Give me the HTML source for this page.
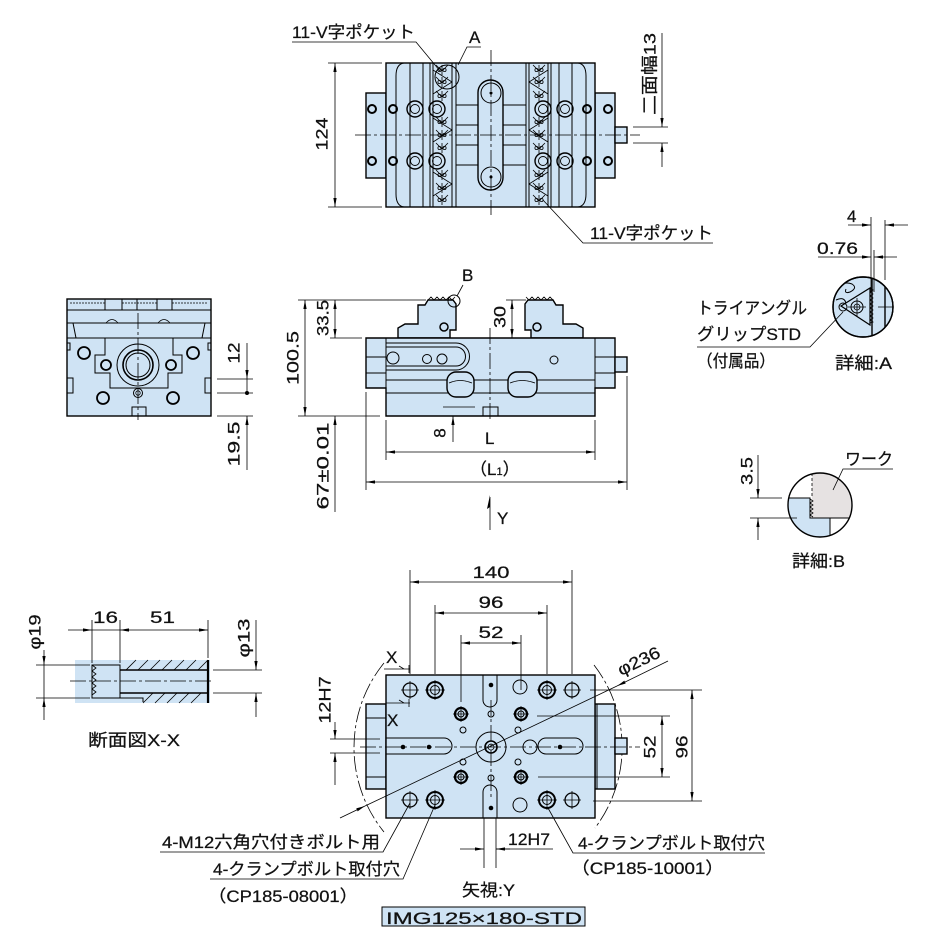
<!DOCTYPE html>
<html><head><meta charset="utf-8"><style>
html,body{margin:0;padding:0;background:#fff;}
svg{display:block;}
text{font-family:"Liberation Sans","Noto Sans CJK JP",sans-serif;fill:#111;font-size:17px;stroke:#111;stroke-width:0.25;}
.o{fill:#cfe3f4;stroke:#000;stroke-width:1.4}
.l{fill:none;stroke:#000;stroke-width:1}
.t{fill:none;stroke:#000;stroke-width:0.8}
.c{stroke-dasharray:16 3 3 3}
.k{fill:none;stroke:#000;stroke-width:2}
</style></head><body>
<svg width="929" height="950" viewBox="0 0 929 950" xmlns="http://www.w3.org/2000/svg">
<defs>
<marker id="ar" viewBox="0 0 10 10" refX="10" refY="5" markerWidth="9" markerHeight="9" markerUnits="userSpaceOnUse" orient="auto-start-reverse"><path d="M0,3.2 L10,5 L0,6.8 z" fill="#000"/></marker>
<g id="vp"><path d="M-6,-5 L0,1 L6,-5 M0,-5V5" fill="none" stroke="#000" stroke-width="0.8"/><circle cx="-2.5" cy="0" r="1.6" fill="none" stroke="#000" stroke-width="0.8"/><circle cx="2.5" cy="0" r="1.6" fill="none" stroke="#000" stroke-width="0.8"/></g>
<g id="bh"><circle r="8" fill="none" stroke="#000" stroke-width="1.4"/><circle r="4.5" fill="none" stroke="#000" stroke-width="0.9"/></g>
<g id="sh"><circle r="4" fill="none" stroke="#000" stroke-width="2"/></g>
<g id="px"><circle r="7" fill="none" stroke="#000" stroke-width="1.3"/><path d="M-9,0H9M0,-9V9" stroke="#000" stroke-width="0.8"/></g>
<g id="dx"><circle r="8" fill="none" stroke="#000" stroke-width="2"/><circle r="4.5" fill="none" stroke="#000" stroke-width="1"/><path d="M-10,0H10M0,-10V10" stroke="#000" stroke-width="0.8"/></g>
<g id="mx"><circle r="6" fill="none" stroke="#000" stroke-width="2.2"/><circle r="3" fill="none" stroke="#000" stroke-width="1"/><path d="M-8,0H8M0,-8V8" stroke="#000" stroke-width="0.7"/></g>
<clipPath id="ca"><circle cx="863" cy="307" r="30"/></clipPath>
<clipPath id="cb"><circle cx="820" cy="505" r="32"/></clipPath>
</defs>

<!-- ================= TOP VIEW ================= -->
<rect class="o" x="366" y="93" width="20" height="85"/>
<rect class="o" x="595" y="93" width="20" height="85"/>
<rect class="o" x="615" y="127" width="12" height="16"/>
<rect class="o" x="386" y="63" width="209" height="144"/>
<path class="l" d="M404,63 Q396,64 396,76 V194 Q396,206 404,207 M578,63 Q586,64 586,76 V194 Q586,206 578,207"/>
<path class="l" d="M410,63V207 M423,63V207 M430,63V207 M433,63V207 M452,63V207 M456,63V207 M526,63V207 M529,63V207 M548,63V207 M551,63V207 M559,63V207 M572,63V207"/>
<path class="l" d="M456,105H478 M503,105H526 M456,125H478 M503,125H526 M456,145H478 M503,145H526 M456,165H478 M503,165H526"/>
<path class="t" d="M433,70 L452,82 L433,94 M433,118 L452,130 L433,142 M433,172 L452,184 L433,196 M548,70 L529,82 L548,94 M548,118 L529,130 L548,142 M548,172 L529,184 L548,196"/>
<rect class="o" x="478" y="80" width="25" height="110" rx="12.5"/>
<circle class="l" cx="491" cy="93" r="10"/><circle class="l" cx="491" cy="177" r="10"/>
<circle cx="491" cy="93" r="1.5"/><circle cx="491" cy="177" r="1.5"/>
<use href="#bh" x="415" y="109"/><use href="#bh" x="437" y="109"/><use href="#bh" x="543" y="109"/><use href="#bh" x="565" y="109"/>
<use href="#bh" x="415" y="161"/><use href="#bh" x="437" y="161"/><use href="#bh" x="543" y="161"/><use href="#bh" x="565" y="161"/>
<use href="#sh" x="372" y="109"/><use href="#sh" x="393" y="109"/><use href="#sh" x="587" y="109"/><use href="#sh" x="608" y="109"/>
<use href="#sh" x="372" y="161"/><use href="#sh" x="393" y="161"/><use href="#sh" x="587" y="161"/><use href="#sh" x="608" y="161"/>
<use href="#vp" x="442" y="70"/><use href="#vp" x="442" y="82"/><use href="#vp" x="442" y="96"/><use href="#vp" x="442" y="122"/><use href="#vp" x="442" y="135"/><use href="#vp" x="442" y="148"/><use href="#vp" x="442" y="175"/><use href="#vp" x="442" y="188"/><use href="#vp" x="442" y="200"/>
<use href="#vp" x="539" y="70"/><use href="#vp" x="539" y="82"/><use href="#vp" x="539" y="96"/><use href="#vp" x="539" y="122"/><use href="#vp" x="539" y="135"/><use href="#vp" x="539" y="148"/><use href="#vp" x="539" y="175"/><use href="#vp" x="539" y="188"/><use href="#vp" x="539" y="200"/>
<path class="t c" d="M355,135H640 M491,50V215"/>
<circle class="l" cx="447" cy="77" r="12"/>
<!-- top dims -->
<path class="t" d="M328,63H382 M328,207H382"/>
<line class="t" x1="335" y1="63" x2="335" y2="207" marker-start="url(#ar)" marker-end="url(#ar)"/>
<text transform="translate(322,134) rotate(-90)" text-anchor="middle" dominant-baseline="central" font-size="19" textLength="33" lengthAdjust="spacingAndGlyphs">124</text>
<path class="t" d="M633,127H668 M633,143H668"/>
<line class="t" x1="662" y1="33" x2="662" y2="127" marker-end="url(#ar)"/>
<line class="t" x1="662" y1="167" x2="662" y2="143" marker-end="url(#ar)"/>
<text transform="translate(650,74) rotate(-90)" text-anchor="middle" dominant-baseline="central" font-size="18" textLength="82" lengthAdjust="spacingAndGlyphs">二面幅13</text>
<path class="t" d="M292,42H416L440,71"/>
<text x="292" y="38" textLength="123" lengthAdjust="spacingAndGlyphs">11-V字ポケット</text>
<path class="t" d="M481,47H467L458,65"/>
<text x="469" y="43">A</text>
<path class="t" d="M713,243H583L543,200"/>
<text x="590" y="239" textLength="123" lengthAdjust="spacingAndGlyphs">11-V字ポケット</text>

<!-- ================= FRONT VIEW ================= -->
<path class="o" d="M398,338 V328 L405,324 H418 V305 H425 L428,300 H453 L456,304 V330 H450 V338 Z"/>
<path class="t" d="M428,300 l3,-3 l3,3 l3,-3 l3,3 l3,-3 l3,3 l3,-3 l3,3 l3,-3"/>
<circle class="k" cx="444" cy="327" r="4" style="stroke-width:1.5"/>
<path class="o" d="M583,338 V328 L576,324 H563 V305 H556 L553,300 H528 L525,304 V330 H531 V338 Z"/>
<path class="t" d="M553,300 l-3,-3 l-3,3 l-3,-3 l-3,3 l-3,-3 l-3,3 l-3,-3 l-3,3 l-3,-3"/>
<circle class="k" cx="537" cy="327" r="4" style="stroke-width:1.5"/>
<path class="o" d="M366,338H615V388H595V416H386V388H366Z"/>
<rect class="o" x="615" y="357" width="12" height="15"/>
<path class="l" d="M386,338V388 M595,338V388 M366,357H386 M366,373H386 M386,380H595 M386,393H595 M595,357H615 M595,373H615"/>
<path class="l" d="M386,343H456A13.5,13.5 0 0 1 456,370H386 M386,347H456A9.5,9.5 0 0 1 456,366H386"/>
<circle class="l" cx="393" cy="358" r="6"/><circle class="l" cx="427" cy="359" r="4.5"/><circle class="l" cx="442" cy="359" r="5"/>
<circle class="l" cx="554" cy="360" r="4"/>
<rect class="o" x="447" y="372" width="27" height="25" rx="9"/>
<path class="t" d="M449,383 Q460,378 472,383"/>
<rect class="o" x="508" y="372" width="29" height="25" rx="9"/>
<path class="t" d="M510,383 Q522,378 535,383"/>
<rect class="l" x="483" y="407" width="15" height="9"/>
<path class="t c" d="M490,328V420"/>
<!-- front dims -->
<path class="t" d="M298,300H426 M330,338H362 M298,416H380 M506,300H526"/>
<line class="t" x1="305" y1="300" x2="305" y2="416" marker-start="url(#ar)" marker-end="url(#ar)"/>
<line class="t" x1="335" y1="300" x2="335" y2="338" marker-start="url(#ar)" marker-end="url(#ar)"/>
<line class="t" x1="335" y1="512" x2="335" y2="416" marker-end="url(#ar)"/>
<line class="t" x1="512" y1="300" x2="512" y2="338" marker-start="url(#ar)" marker-end="url(#ar)"/>
<text transform="translate(293,358) rotate(-90)" text-anchor="middle" dominant-baseline="central" font-size="19" textLength="54" lengthAdjust="spacingAndGlyphs">100.5</text>
<text transform="translate(323,318) rotate(-90)" text-anchor="middle" dominant-baseline="central" font-size="19" textLength="36" lengthAdjust="spacingAndGlyphs">33.5</text>
<text transform="translate(500,317) rotate(-90)" text-anchor="middle" dominant-baseline="central" font-size="19" textLength="22" lengthAdjust="spacingAndGlyphs">30</text>
<text transform="translate(323,466) rotate(-90)" text-anchor="middle" dominant-baseline="central" font-size="19" textLength="87" lengthAdjust="spacingAndGlyphs">67±0.01</text>
<path class="t" d="M443,407H475"/>
<line class="t" x1="453" y1="442" x2="453" y2="416" marker-end="url(#ar)"/>
<text transform="translate(440,433) rotate(-90)" text-anchor="middle" dominant-baseline="central" font-size="18">8</text>
<path class="t" d="M386,420V460 M595,420V460 M366,392V490 M627,376V490"/>
<line class="t" x1="386" y1="452" x2="595" y2="452" marker-start="url(#ar)" marker-end="url(#ar)"/>
<line class="t" x1="366" y1="482" x2="627" y2="482" marker-start="url(#ar)" marker-end="url(#ar)"/>
<text x="485" y="444" font-size="18">L</text>
<text x="470" y="475" font-size="17">（L<tspan font-size="11">1</tspan>）</text>
<path class="t" d="M490,530V497"/>
<path d="M490,495 L487,509 L490,507 Z" fill="#000"/>
<text x="497" y="524" font-size="18">Y</text>
<circle class="l" cx="454" cy="301" r="6"/>
<path class="t" d="M463,285L457,296"/>
<text x="462" y="281" font-size="17">B</text>

<!-- ================= SIDE VIEW ================= -->
<rect class="o" x="67" y="299" width="144" height="117"/>
<path class="l" d="M67,310H211 M67,323H211 M67,338H211 M105,299V310 M122,299V310 M157,299V310 M172,299V310 M137,299V310"/>
<path class="t" d="M70,303H105 M122,303H157 M172,303H208" stroke-dasharray="2 1"/>
<path class="l" d="M73,323L76,338 M205,323L202,338"/>
<path class="t" d="M106,323 Q112,316 118,323 M158,323 Q164,316 170,323"/>
<path class="l" d="M105,338V355H95V373H110V388H168V373H182V355H173V338"/>
<circle class="l" cx="138" cy="365" r="21"/><circle class="k" cx="138" cy="365" r="15" style="stroke-width:1.6"/><circle class="l" cx="138" cy="365" r="12"/>
<circle class="k" cx="84" cy="353" r="6" style="stroke-width:1.8"/><circle class="k" cx="193" cy="353" r="6" style="stroke-width:1.8"/>
<circle class="k" cx="106" cy="365" r="5" style="stroke-width:1.8"/><circle class="k" cx="171" cy="365" r="5" style="stroke-width:1.8"/>
<circle class="k" cx="103" cy="398" r="6" style="stroke-width:1.8"/><circle class="k" cx="173" cy="398" r="6" style="stroke-width:1.8"/>
<circle class="l" cx="138" cy="393" r="4.5"/><circle class="t" cx="138" cy="393" r="2.2"/>
<path class="l" d="M67,378H73V393H67 M211,378H205V393H211 M67,343H70V350H67 M211,343H208V350H211"/>
<rect class="l" x="132" y="407" width="14" height="9"/>
<path class="t c" d="M138,313V420"/>
<path class="t" d="M217,379H253 M217,393H253 M217,416H253"/>
<line class="t" x1="247" y1="343" x2="247" y2="379" marker-end="url(#ar)"/>
<line class="t" x1="247" y1="379" x2="247" y2="393"/>
<circle cx="247" cy="393" r="2"/>
<line class="t" x1="247" y1="470" x2="247" y2="416" marker-end="url(#ar)"/>
<text transform="translate(234,353) rotate(-90)" text-anchor="middle" dominant-baseline="central" font-size="19" textLength="21" lengthAdjust="spacingAndGlyphs">12</text>
<text transform="translate(234,444) rotate(-90)" text-anchor="middle" dominant-baseline="central" font-size="19" textLength="45" lengthAdjust="spacingAndGlyphs">19.5</text>

<!-- ================= DETAIL A ================= -->
<circle class="o" cx="863" cy="307" r="30"/>
<g clip-path="url(#ca)">
<path class="l" d="M872,270V345 M885,270V345" style="stroke-width:1.4"/>
<path class="l" d="M833,292 Q842,280 852,284 Q858,288 850,292 Q844,294 846,289 M836,300 Q845,296 846,304"/>
<path class="o" d="M841,306 L870,288 L870,325 Z" style="stroke-width:1.2"/>
<path class="t" d="M870,288 l3,2 l-3,2 l3,2 l-3,2 l3,2 l-3,2 l3,2 l-3,2 l3,2 l-3,2 l3,2 l-3,2 l3,2 l-3,2 l3,2 l-3,2 l3,2 l-3,1"/>
<circle class="l" cx="857" cy="307" r="6"/><circle class="t" cx="857" cy="307" r="3"/>
<path class="t" d="M848,307H866 M857,298V316 M878,307H895"/>
<circle class="l" cx="843" cy="307" r="4"/>
</g>
<circle class="l" cx="863" cy="307" r="30" style="stroke-width:1.4"/>
<path class="t" d="M871,217V292 M885,220V280 M874,250V292"/>
<line class="t" x1="848" y1="225" x2="871" y2="225" marker-end="url(#ar)"/>
<line class="t" x1="908" y1="225" x2="885" y2="225" marker-end="url(#ar)"/>
<line class="t" x1="818" y1="257" x2="871" y2="257" marker-end="url(#ar)"/>
<line class="t" x1="897" y1="257" x2="874" y2="257" marker-end="url(#ar)"/>
<text x="847" y="222" font-size="17">4</text>
<text x="817" y="254" font-size="17" textLength="41" lengthAdjust="spacingAndGlyphs">0.76</text>
<path class="t" d="M697,347H810L843,312"/>
<text x="697" y="314" font-size="16" textLength="110" lengthAdjust="spacingAndGlyphs">トライアングル</text>
<text x="697" y="340" font-size="16" textLength="104" lengthAdjust="spacingAndGlyphs">グリップSTD</text>
<text x="697" y="367" font-size="16" textLength="78" lengthAdjust="spacingAndGlyphs">（付属品）</text>
<text x="835" y="369" font-size="16" textLength="57" lengthAdjust="spacingAndGlyphs">詳細:A</text>

<!-- ================= DETAIL B ================= -->
<g clip-path="url(#cb)">
<rect x="780" y="465" width="80" height="80" fill="#fff"/>
<rect x="812" y="465" width="50" height="53" fill="#e6e2e2"/>
<path d="M780,498H810V518H830V545H780Z" fill="#cfe3f4"/>
<path class="l" d="M780,498H810V518H862 M830,518V545"/>
<path class="t" d="M812,468V498" stroke-dasharray="3 2"/>
<path class="t" d="M810,499 l3,2 l-3,2 l3,2 l-3,2 l3,2 l-3,2 l3,2 l-3,2 l3,2"/>
</g>
<circle class="l" cx="820" cy="505" r="32" style="stroke-width:1.4"/>
<path class="t" d="M750,498H782 M750,518H797"/>
<line class="t" x1="758" y1="455" x2="758" y2="498" marker-end="url(#ar)"/>
<line class="t" x1="758" y1="540" x2="758" y2="518" marker-end="url(#ar)"/>
<text transform="translate(747,471) rotate(-90)" text-anchor="middle" dominant-baseline="central" font-size="19" textLength="28" lengthAdjust="spacingAndGlyphs">3.5</text>
<path class="t" d="M893,469H843L833,490"/>
<text x="845" y="465" font-size="16" textLength="48" lengthAdjust="spacingAndGlyphs">ワーク</text>
<text x="792" y="567" font-size="16" textLength="53" lengthAdjust="spacingAndGlyphs">詳細:B</text>

<!-- ================= SECTION X-X ================= -->
<rect x="75" y="660" width="135" height="43" fill="#cfe3f4"/>
<path class="t" d="M126,670L136,660 M138,670L148,660 M150,670L160,660 M162,670L172,660 M174,670L184,660 M186,670L196,660 M198,670L208,660 M143,703L153,693 M155,703L165,693 M167,703L177,693 M179,703L189,693 M191,703L201,693"/>
<rect class="l" x="92" y="665" width="28" height="33" fill="#cfe3f4"/>
<path d="M120,670H208 M120,693H208" stroke="#000" stroke-width="1.6"/>
<path d="M208,660V703" stroke="#000" stroke-width="2.2"/>
<path class="t" d="M92,665 l4,3 l-4,3 l4,3 l-4,3 l4,3 l-4,3 l4,3 l-4,3 l4,3 l-4,3"/>
<path class="l" d="M120,698H143V702"/>
<path class="t c" d="M70,681H214"/>
<path class="t" d="M92,620V663 M120,620V663 M208,620V658"/>
<line class="t" x1="68" y1="630" x2="92" y2="630" marker-end="url(#ar)"/>
<line class="t" x1="92" y1="630" x2="120" y2="630"/>
<line class="t" x1="120" y1="630" x2="208" y2="630" marker-start="url(#ar)" marker-end="url(#ar)"/>
<text x="93" y="623" font-size="18" textLength="25" lengthAdjust="spacingAndGlyphs">16</text>
<text x="150" y="623" font-size="18" textLength="25" lengthAdjust="spacingAndGlyphs">51</text>
<path class="t" d="M36,665H90 M36,698H90 M213,670H262 M213,693H262"/>
<line class="t" x1="44" y1="650" x2="44" y2="665" marker-end="url(#ar)"/>
<line class="t" x1="44" y1="665" x2="44" y2="698"/>
<line class="t" x1="44" y1="720" x2="44" y2="698" marker-end="url(#ar)"/>
<line class="t" x1="256" y1="620" x2="256" y2="670" marker-end="url(#ar)"/>
<line class="t" x1="256" y1="717" x2="256" y2="693" marker-end="url(#ar)"/>
<text transform="translate(35,632) rotate(-90)" text-anchor="middle" dominant-baseline="central" font-size="18" textLength="35" lengthAdjust="spacingAndGlyphs">φ19</text>
<text transform="translate(244,638) rotate(-90)" text-anchor="middle" dominant-baseline="central" font-size="18" textLength="39" lengthAdjust="spacingAndGlyphs">φ13</text>
<text x="88" y="746" font-size="17" textLength="92" lengthAdjust="spacingAndGlyphs">断面図X-X</text>

<!-- ================= BOTTOM VIEW (Y) ================= -->
<path class="t c" d="M384,663 A134,134 0 0 0 384,832 M594,665 A134,134 0 0 1 595,828"/>
<rect class="o" x="366" y="704" width="20" height="85"/>
<rect class="o" x="595" y="704" width="20" height="85"/>
<rect class="o" x="615" y="738" width="12" height="16"/>
<rect class="o" x="386" y="675" width="209" height="143"/>
<path class="l" d="M366,718H386 M366,777H386 M597,704V789"/>
<path class="l" d="M386,738H444A8,8 0 0 1 444,754H386"/>
<rect class="l" x="538" y="738" width="45" height="16" rx="8"/>
<path class="l" d="M483,675V700A7,7 0 0 0 497,700V675"/>
<path class="l" d="M483,818V792A7,7 0 0 1 497,792V818"/>
<circle cx="403" cy="747" r="2.3"/><circle cx="429" cy="747" r="2.3"/><circle cx="560" cy="747" r="2.3"/>
<circle cx="491" cy="685" r="2.3"/><circle cx="491" cy="808" r="2.3"/>
<circle class="l" cx="530" cy="747" r="7"/>
<circle class="l" cx="520" cy="687" r="7"/><circle class="l" cx="520" cy="805" r="7"/>
<circle class="l" cx="491" cy="747" r="15"/><circle class="k" cx="491" cy="747" r="6" style="stroke-width:1.6"/><circle class="t" cx="491" cy="747" r="3"/>
<use href="#px" x="410" y="690"/><use href="#px" x="572" y="690"/><use href="#px" x="410" y="800"/><use href="#px" x="572" y="800"/>
<use href="#dx" x="435" y="690"/><use href="#dx" x="547" y="690"/><use href="#dx" x="435" y="800"/><use href="#dx" x="547" y="800"/>
<use href="#mx" x="461" y="714"/><use href="#mx" x="521" y="714"/><use href="#mx" x="461" y="777"/><use href="#mx" x="521" y="777"/>
<circle class="l" cx="463" cy="730" r="3"/><circle class="l" cx="518" cy="730" r="3"/><circle class="l" cx="463" cy="762" r="3"/><circle class="l" cx="518" cy="762" r="3"/>
<circle class="l" cx="491" cy="714" r="3"/><circle class="l" cx="491" cy="778" r="3"/>
<path class="t c" d="M360,747H640 M491,700V800"/>
<!-- dims -->
<path class="t" d="M410,570V674 M572,570V674 M435,605V674 M547,605V674 M461,635V702 M521,635V690"/>
<line class="t" x1="410" y1="582" x2="572" y2="582" marker-start="url(#ar)" marker-end="url(#ar)"/>
<line class="t" x1="435" y1="613" x2="547" y2="613" marker-start="url(#ar)" marker-end="url(#ar)"/>
<line class="t" x1="461" y1="643" x2="521" y2="643" marker-start="url(#ar)" marker-end="url(#ar)"/>
<text x="491" y="578" text-anchor="middle" font-size="18" textLength="37" lengthAdjust="spacingAndGlyphs">140</text>
<text x="491" y="608" text-anchor="middle" font-size="18" textLength="25" lengthAdjust="spacingAndGlyphs">96</text>
<text x="491" y="638" text-anchor="middle" font-size="18" textLength="25" lengthAdjust="spacingAndGlyphs">52</text>
<path class="t" d="M590,690H702 M593,801H702 M537,716H670 M538,777H670"/>
<line class="t" x1="662" y1="716" x2="662" y2="777" marker-start="url(#ar)" marker-end="url(#ar)"/>
<line class="t" x1="692" y1="690" x2="692" y2="801" marker-start="url(#ar)" marker-end="url(#ar)"/>
<text transform="translate(650,747) rotate(-90)" text-anchor="middle" dominant-baseline="central" font-size="19" textLength="23" lengthAdjust="spacingAndGlyphs">52</text>
<text transform="translate(682,747) rotate(-90)" text-anchor="middle" dominant-baseline="central" font-size="19" textLength="23" lengthAdjust="spacingAndGlyphs">96</text>
<line class="t" x1="668" y1="661" x2="617" y2="686" marker-end="url(#ar)"/>
<line class="t" x1="617" y1="686" x2="365" y2="806"/>
<line class="t" x1="340" y1="818" x2="365" y2="806" marker-end="url(#ar)"/>
<text transform="translate(621,676) rotate(-25.6)" font-size="18" textLength="45" lengthAdjust="spacingAndGlyphs">φ236</text>
<text x="386" y="663" font-size="17">X</text>
<text x="387" y="726" font-size="17">X</text>
<path class="t" d="M384,669H410 M399,666L404,669 M409,665V673 M386,703H410 M399,700L404,703 M409,699V707"/>
<path class="t" d="M330,739H380 M330,753H380"/>
<line class="t" x1="335" y1="722" x2="335" y2="739" marker-end="url(#ar)"/>
<line class="t" x1="335" y1="785" x2="335" y2="753" marker-end="url(#ar)"/>
<text transform="translate(325,700) rotate(-90)" text-anchor="middle" dominant-baseline="central" font-size="18" textLength="47" lengthAdjust="spacingAndGlyphs">12H7</text>
<path class="t" d="M484,818V868 M496,818V868 M496,849H553"/>
<line class="t" x1="460" y1="849" x2="484" y2="849" marker-end="url(#ar)"/>
<line class="t" x1="510" y1="849" x2="496" y2="849" marker-end="url(#ar)"/>
<text x="508" y="845" font-size="17" textLength="42" lengthAdjust="spacingAndGlyphs">12H7</text>
<!-- leaders/labels -->
<path class="t" d="M160,852H383L410,803"/>
<path class="t" d="M210,879H403L435,805"/>
<path class="t" d="M765,853H573L548,808"/>
<text x="162" y="848" font-size="18" textLength="218" lengthAdjust="spacingAndGlyphs">4-M12六角穴付きボルト用</text>
<text x="213" y="875" font-size="18" textLength="187" lengthAdjust="spacingAndGlyphs">4-クランプボルト取付穴</text>
<text x="208" y="902" font-size="18" textLength="150" lengthAdjust="spacingAndGlyphs">（CP185-08001）</text>
<text x="578" y="849" font-size="18" textLength="187" lengthAdjust="spacingAndGlyphs">4-クランプボルト取付穴</text>
<text x="571" y="874" font-size="18" textLength="153" lengthAdjust="spacingAndGlyphs">（CP185-10001）</text>
<text x="462" y="896" font-size="17" textLength="53" lengthAdjust="spacingAndGlyphs">矢視:Y</text>
<rect x="382" y="907" width="203" height="19" fill="#cfe3f4" stroke="#000" stroke-width="1"/>
<text x="386" y="924" font-size="20" textLength="196" lengthAdjust="spacingAndGlyphs">IMG125×180-STD</text>
</svg>
</body></html>
